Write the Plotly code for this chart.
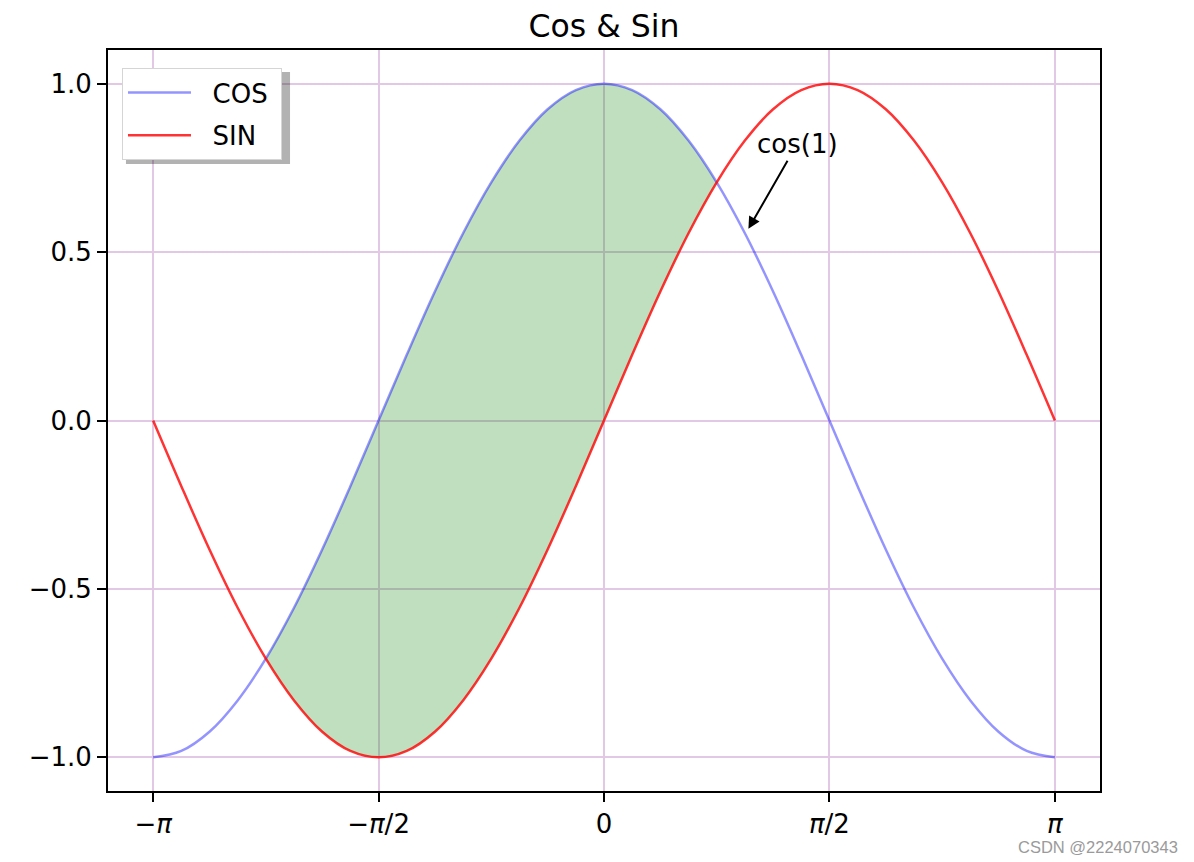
import numpy as np
import plotly.graph_objects as go

# sample points at steps of pi/16
x_vals = [-3.1416, -2.9452, -2.7489, -2.5525, -2.3562, -2.1598, -1.9635, -1.7671,
          -1.5708, -1.3744, -1.1781, -0.9817, -0.7854, -0.5890, -0.3927, -0.1963,
          0.0, 0.1963, 0.3927, 0.5890, 0.7854, 0.9817, 1.1781, 1.3744,
          1.5708, 1.7671, 1.9635, 2.1598, 2.3562, 2.5525, 2.7489, 2.9452, 3.1416]
cos_vals = [-1.0, -0.981, -0.924, -0.831, -0.707, -0.556, -0.383, -0.195,
            0.0, 0.195, 0.383, 0.556, 0.707, 0.831, 0.924, 0.981,
            1.0, 0.981, 0.924, 0.831, 0.707, 0.556, 0.383, 0.195,
            0.0, -0.195, -0.383, -0.556, -0.707, -0.831, -0.924, -0.981, -1.0]
sin_vals = [0.0, -0.195, -0.383, -0.556, -0.707, -0.831, -0.924, -0.981,
            -1.0, -0.981, -0.924, -0.831, -0.707, -0.556, -0.383, -0.195,
            0.0, 0.195, 0.383, 0.556, 0.707, 0.831, 0.924, 0.981,
            1.0, 0.981, 0.924, 0.831, 0.707, 0.556, 0.383, 0.195, 0.0]

# where cos lies above sin (from -3pi/4 to pi/4)
fill_start, fill_end = 4, 21

x_tick_vals = [-np.pi, -np.pi / 2, 0, np.pi / 2, np.pi]
x_tick_text = ["\u2212<i>\u03c0</i>", "\u2212<i>\u03c0</i>/2", "0", "<i>\u03c0</i>/2", "<i>\u03c0</i>"]
y_tick_vals = [-1.0, -0.5, 0.0, 0.5, 1.0]
y_tick_text = ["\u22121.0", "\u22120.5", "0.0", "0.5", "1.0"]

FONT = "DejaVu Sans"
GRID = "#e3c8e6"
NBSP = "\u00a0"

# the page puts the figure 8px in from the top-left corner
W, H = 1186, 854

fig = go.Figure()

# fill between the curves
fig.add_trace(go.Scatter(
    x=x_vals[fill_start:fill_end], y=sin_vals[fill_start:fill_end],
    mode="lines", line=dict(width=0, shape="spline"),
    showlegend=False, hoverinfo="skip", legendgroup="f"))
fig.add_trace(go.Scatter(
    x=x_vals[fill_start:fill_end], y=cos_vals[fill_start:fill_end],
    mode="lines", line=dict(width=0, shape="spline"),
    fill="tonexty", fillcolor="rgba(0,128,0,0.25)",
    showlegend=False, hoverinfo="skip", legendgroup="f"))

fig.add_trace(go.Scatter(
    x=x_vals, y=cos_vals, name=NBSP * 2 + "COS" + NBSP, mode="lines", legendgroup="c",
    line=dict(color="rgba(0,0,255,0.42)", width=2.5, shape="spline")))
fig.add_trace(go.Scatter(
    x=x_vals, y=sin_vals, name=NBSP * 2 + "SIN", mode="lines", legendgroup="s",
    line=dict(color="rgba(255,0,0,0.8)", width=2.5, shape="spline")))

axis_common = dict(
    showline=True, linecolor="black", linewidth=2, mirror=True,
    ticks="outside", ticklen=9, tickwidth=2, tickcolor="black",
    showgrid=True, gridcolor=GRID, gridwidth=2, zeroline=False,
    tickfont=dict(family=FONT, size=26, color="black"),
)

fig.update_xaxes(range=[-3.456, 3.456], tickvals=x_tick_vals, ticktext=x_tick_text,
                 **axis_common)
fig.update_yaxes(range=[-1.1, 1.1], tickvals=y_tick_vals, ticktext=y_tick_text,
                 **axis_common)

# annotation with arrow
fig.add_annotation(
    x=1.006, y=0.569, ax=1.345, ay=0.82, axref="x", ayref="y",
    text="cos(1)", showarrow=True, arrowhead=2, arrowsize=1.2, arrowwidth=2,
    arrowcolor="black", font=dict(family=FONT, size=26, color="black"))

# watermark
fig.add_annotation(
    xref="paper", yref="paper", x=1.0806, y=-0.0756, xanchor="right", yanchor="middle",
    text="CSDN @2224070343", showarrow=False,
    font=dict(family="Liberation Sans", size=16.5, color="#9a9a9a"))

# legend shadow
fig.add_shape(type="rect", xref="paper", yref="paper",
              x0=0.0181, x1=0.1835, y0=0.8462, y1=0.9703,
              fillcolor="rgba(0,0,0,0.3)", line=dict(width=0), layer="above")

fig.update_layout(
    width=W, height=H,
    margin=dict(l=100, r=94, t=42, b=71),
    paper_bgcolor="white", plot_bgcolor="white",
    font=dict(family=FONT, size=26, color="black"),
    title=dict(text="Cos & Sin", x=0.5, xref="paper", xanchor="center",
               y=1 - 18 / H, yanchor="middle",
               font=dict(family=FONT, size=31.5, color="black")),
    legend=dict(x=0.0141, y=0.9757, xanchor="left", yanchor="top",
                bgcolor="white", bordercolor="#d5d5d5", borderwidth=1,
                font=dict(family=FONT, size=26, color="black"),
                traceorder="grouped", tracegroupgap=6,
                itemwidth=63),
    showlegend=True,
)

fig.write_html("out.html")
